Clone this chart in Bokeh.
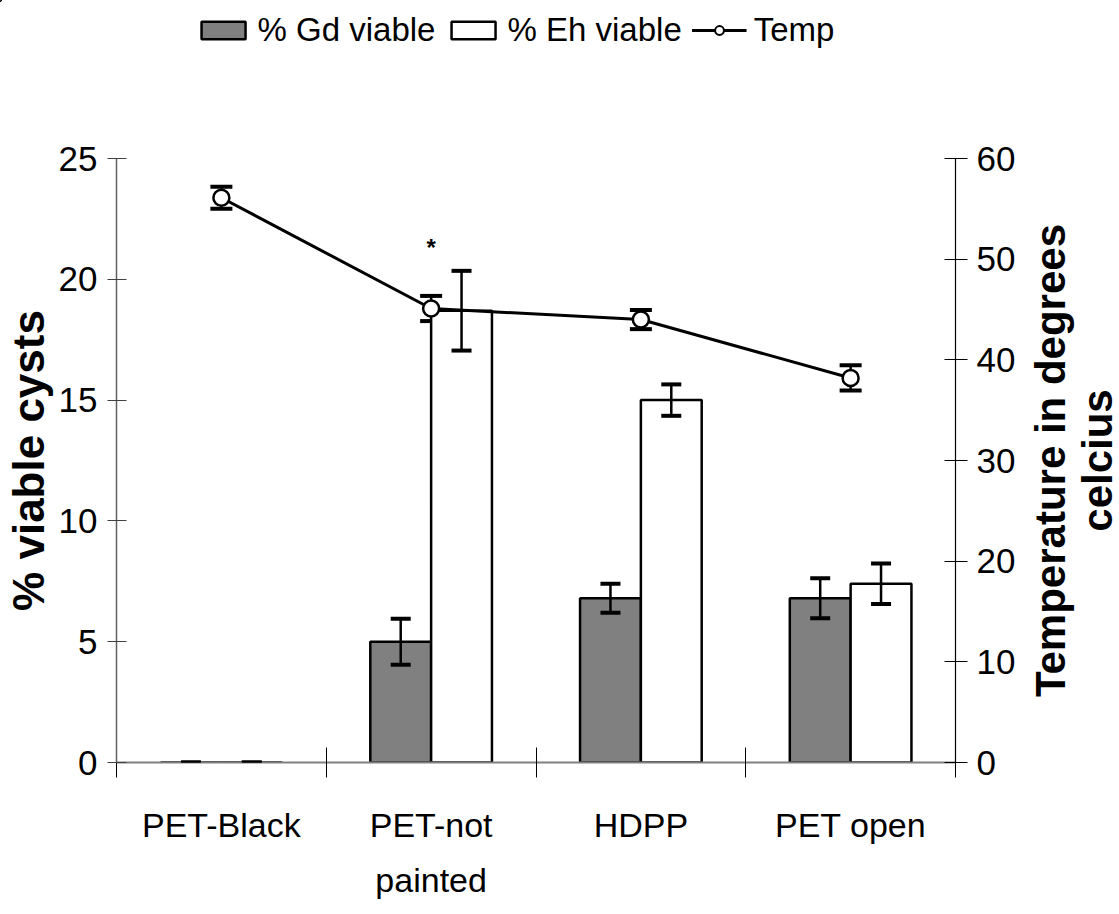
import math
from bokeh.plotting import figure
from bokeh.layouts import column, row
from bokeh.models import (Range1d, LinearAxis, FixedTicker, ColumnDataSource, Whisker,
                          TeeHead, Legend, LegendItem)
from bokeh.core.properties import value
from bokeh.embed import file_html
from bokeh.resources import INLINE

# ---- data ----
categories = ["PET-Black", "PET-not\npainted", "HDPP", "PET open"]
gd_viable = [0.0, 5.0, 6.8, 6.8]
gd_err = [0.0, 0.95, 0.6, 0.83]
eh_viable = [0.0, 18.7, 15.0, 7.4]
eh_err = [0.0, 1.65, 0.65, 0.84]
temp = [56.1, 45.1, 44.0, 38.2]
temp_err = [1.1, 1.25, 0.95, 1.25]
left_ticks = [0, 5, 10, 15, 20, 25]
right_ticks = [0, 10, 20, 30, 40, 50, 60]
series_labels = ["% Gd viable", "% Eh viable", "Temp"]
left_title = "% viable cysts"
right_title = "Temperature in degrees\ncelcius"
asterisk_cat = 1
asterisk_y = 21.3

NARROW = "'Liberation Sans Narrow', 'Arial Narrow', 'Liberation Sans', sans-serif"
BOLD = "'Liberation Sans', Arial, sans-serif"

W = 1119
LEG_H = 60
MAIN_H = 914 - LEG_H
LAB_W = 100
MAIN_W = W - LAB_W

GD_STYLE = dict(fill_color="#808080", line_color="black", line_width=2.5)
EH_STYLE = dict(fill_color="white", line_color="black", line_width=2.5)
LINE_STYLE = dict(line_color="black", line_width=3)
PT_STYLE = dict(marker="circle", size=16, fill_color="white", line_color="black", line_width=2.5)

n = len(categories)
centers = [i + 0.5 for i in range(n)]
bw = 0.29
gd_x = [c - bw / 2 for c in centers]
eh_x = [c + bw / 2 for c in centers]

src = ColumnDataSource(dict(
    gd_x=gd_x, eh_x=eh_x, cx=centers,
    gd=gd_viable, gd_up=[v + e for v, e in zip(gd_viable, gd_err)], gd_lo=[v - e for v, e in zip(gd_viable, gd_err)],
    eh=eh_viable, eh_up=[v + e for v, e in zip(eh_viable, eh_err)], eh_lo=[v - e for v, e in zip(eh_viable, eh_err)],
    t=temp, t_up=[v + e for v, e in zip(temp, temp_err)], t_lo=[v - e for v, e in zip(temp, temp_err)],
))

def plain(fig):
    fig.outline_line_color = None
    fig.xgrid.visible = False
    fig.ygrid.visible = False
    fig.background_fill_color = "white"
    fig.border_fill_color = "white"

# ================= main chart =================
p = figure(width=MAIN_W, height=MAIN_H, x_range=Range1d(0, n), y_range=Range1d(0, left_ticks[-1]),
           output_backend="svg", toolbar_location=None,
           min_border_left=116, min_border_right=MAIN_W - 955, min_border_top=158 - LEG_H,
           min_border_bottom=152)
p.extra_y_ranges = {"temp": Range1d(0, right_ticks[-1])}
plain(p)

p.vbar(x="gd_x", top="gd", width=bw, bottom=0, source=src, **GD_STYLE)
p.vbar(x="eh_x", top="eh", width=bw, bottom=0, source=src, **EH_STYLE)

def whisk(base, up, lo, level, range_name="default", size=20):
    w = Whisker(base=base, upper=up, lower=lo, source=src, dimension="height",
                line_color="black", line_width=2.5, level=level,
                upper_head=TeeHead(size=size, line_width=4, line_color="black"),
                lower_head=TeeHead(size=size, line_width=4, line_color="black"))
    if range_name != "default":
        w.y_range_name = range_name
    p.add_layout(w)

whisk("gd_x", "gd_up", "gd_lo", "annotation")
whisk("eh_x", "eh_up", "eh_lo", "annotation")

p.line(x="cx", y="t", source=src, y_range_name="temp", **LINE_STYLE)
whisk("cx", "t_up", "t_lo", "underlay", "temp", size=22)
p.scatter(x="cx", y="t", source=src, y_range_name="temp", **PT_STYLE)

p.text(x=[centers[asterisk_cat]], y=[asterisk_y], text=["*"], text_font=value(BOLD),
       text_font_size="24px", text_font_style="bold", text_align="center", text_baseline="middle",
       text_color="black")

# ---- x axis ----
xa = p.xaxis[0]
xa.ticker = FixedTicker(ticks=centers, minor_ticks=list(range(n + 1)))
xa.major_label_overrides = {c: lab for c, lab in zip(centers, categories)}
xa.major_tick_line_color = None
xa.minor_tick_line_color = "black"
xa.minor_tick_line_width = 1
xa.minor_tick_in = 15
xa.minor_tick_out = 15
xa.axis_line_color = "#808080"
xa.axis_line_width = 2
xa.major_label_text_font = NARROW
xa.major_label_text_font_size = "34px"
xa.major_label_text_color = "black"
xa.major_label_text_line_height = 1.45
xa.major_label_standoff = 28

# ---- left axis ----
ya = p.yaxis[0]
ya.ticker = FixedTicker(ticks=left_ticks)
ya.minor_tick_line_color = None
ya.major_tick_in = 10
ya.major_tick_out = 9
ya.major_tick_line_color = "#404040"
ya.axis_line_color = "#606060"
ya.axis_line_width = 1.5
ya.major_label_text_font = NARROW
ya.major_label_text_font_size = "35px"
ya.major_label_text_color = "black"
ya.major_label_standoff = 10
ya.axis_label = left_title
ya.axis_label_text_font = BOLD
ya.axis_label_text_font_style = "bold"
ya.axis_label_text_font_size = "44px"
ya.axis_label_text_color = "black"
ya.axis_label_standoff = 3

# ---- right axis (title drawn in the strip to its right) ----
ra = LinearAxis(y_range_name="temp", ticker=FixedTicker(ticks=right_ticks))
ra.minor_tick_line_color = None
ra.major_tick_in = 11
ra.major_tick_out = 12
ra.major_tick_line_color = "black"
ra.axis_line_color = "black"
ra.axis_line_width = 1.2
ra.major_label_text_font = NARROW
ra.major_label_text_font_size = "35px"
ra.major_label_text_color = "black"
ra.major_label_standoff = 9
p.add_layout(ra, "right")

# ================= right axis title strip =================
lab = figure(width=LAB_W, height=MAIN_H, x_range=Range1d(0, 1), y_range=Range1d(0, 1),
             x_axis_type=None, y_axis_type=None, output_backend="svg", toolbar_location=None,
             min_border=0)
plain(lab)
lab.text(x=[0.54], y=[0.50], text=[right_title], angle=math.pi / 2,
         text_font=value(BOLD), text_font_style="bold", text_font_size="42px",
         text_line_height=1.0, text_align="center", text_baseline="middle", text_color="black")

# ================= legend strip =================
# legend renderers reuse the data but sit outside this strip's visible range
lg = figure(width=W, height=LEG_H, x_range=Range1d(20, 21), y_range=Range1d(-200, -199),
            x_axis_type=None, y_axis_type=None, output_backend="svg", toolbar_location=None,
            min_border_left=0, min_border_right=89, min_border_top=0, min_border_bottom=0)
plain(lg)
k_gd = lg.vbar(x="gd_x", top="gd", width=bw, bottom=0, source=src, **GD_STYLE)
k_eh = lg.vbar(x="eh_x", top="eh", width=bw, bottom=0, source=src, **EH_STYLE)
k_ln = lg.line(x="cx", y="t", source=src, **LINE_STYLE)
k_pt = lg.scatter(x="cx", y="t", source=src, **dict(PT_STYLE, size=11, line_width=2))

legend = Legend(items=[
    LegendItem(label=series_labels[0], renderers=[k_gd]),
    LegendItem(label=series_labels[1], renderers=[k_eh]),
    LegendItem(label=series_labels[2], renderers=[k_ln, k_pt]),
], orientation="horizontal", location="center")
legend.label_text_font = NARROW
legend.label_text_font_size = "33px"
legend.label_text_color = "black"
legend.glyph_width = 55
legend.glyph_height = 22
legend.label_standoff = 7
legend.spacing = 10
legend.padding = 0
legend.margin = 0
legend.border_line_color = None
legend.background_fill_alpha = 0
lg.add_layout(legend)

layout = column(lg, row(p, lab, spacing=0), spacing=0)
open("out.html", "w").write(file_html(layout, INLINE))
